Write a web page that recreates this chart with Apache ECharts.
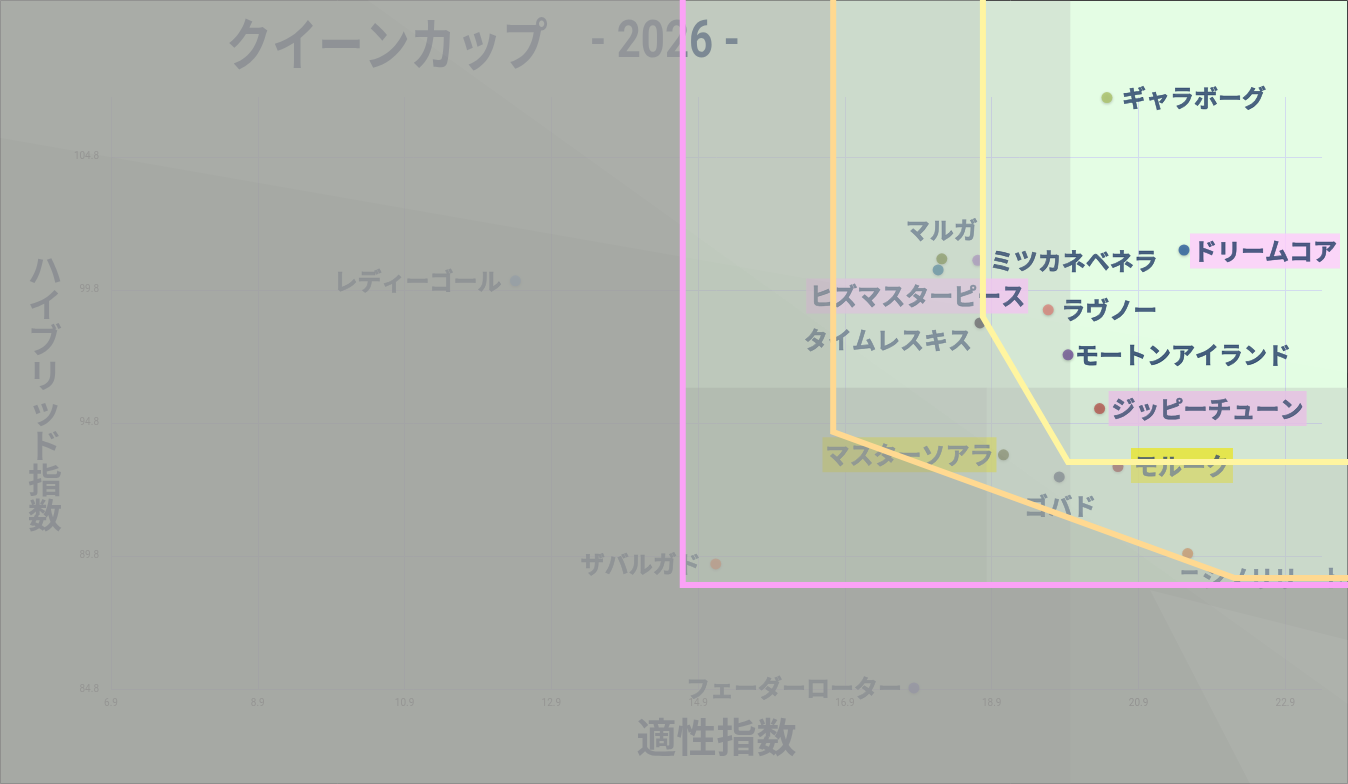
<!DOCTYPE html>
<html lang="ja">
<head>
<meta charset="utf-8">
<title>クイーンカップ 2026</title>
<script src="https://cdn.jsdelivr.net/npm/echarts@6.0.0/dist/echarts.min.js"></script>
<style>
html, body { margin: 0; padding: 0; background: #fff; }
#chart { width: 1348px; height: 784px; }
</style>
</head>
<body>
<div id="chart"></div>
<script>
// 出走馬と指数（x: 適性指数, y: ハイブリッド指数）
var horseNames = ['ギャラボーグ', 'ドリームコア', 'マルガ', 'ヒズマスターピース', 'ミツカネベネラ',
    'タイムレスキス', 'ラヴノー', 'モートンアイランド', 'ジッピーチューン', 'マスターソアラ',
    'モルーク', 'ゴバド', 'ニシノリリート', 'レディーゴール', 'ザバルガド', 'フェーダーローター'];
var tekiseiIndex = [20.47, 21.52, 18.22, 18.17, 18.71, 18.74, 19.67, 19.94, 20.37, 19.06,
    20.62, 19.82, 21.57, 12.41, 15.14, 17.84];
var hybridIndex = [107.03, 101.30, 100.97, 100.55, 100.91, 98.56, 99.05, 97.36, 95.34, 93.60,
    93.16, 92.77, 89.89, 100.14, 89.50, 84.84];

// 軸の範囲と目盛り間隔
var xRange = [6.9, 23.4], xStep = 2;
var yRange = [84.8, 107.05], yStep = 5;

// 囲み線（データ座標、上端と右端は枠の外まで）
var pinkLine = [[14.69, 111], [14.69, 88.71], [24.5, 88.71]];
var orangeLine = [[16.74, 111], [16.74, 94.46], [22.21, 88.97], [24.5, 88.97]];
var yellowLine = [[18.78, 111], [18.78, 98.78], [19.94, 93.33], [24.5, 93.33]];

// 減光エリアの区切り
var brightLeft = 19.97;   // これより左は少し暗い
var lowerEdge = 96.12;    // これより下は少し暗い
var shadeRight = 18.83;   // 左下ブロック

var JP = "'Noto Sans CJK JP', 'Noto Sans', sans-serif";
var NUM = "'Liberation Sans Narrow', Roboto, sans-serif";
var NAVY = '#14305c';

var dotColors = {
    'ギャラボーグ': '#a8c060', 'ドリームコア': '#1f5597', 'マルガ': '#5a7314',
    'ヒズマスターピース': '#0b5e8a', 'ミツカネベネラ': '#9a6dbe', 'タイムレスキス': '#1a1020',
    'ラヴノー': '#e07b70', 'モートンアイランド': '#6a4a92', 'ジッピーチューン': '#b83c30',
    'マスターソアラ': '#4a5010', 'モルーク': '#8c1c1c', 'ゴバド': '#36405a',
    'ニシノリリート': '#e06a10', 'レディーゴール': '#6cacf0', 'ザバルガド': '#ff6a30',
    'フェーダーローター': '#6c6cdc'
};
// ラベル中心の点からのずれ(px)
var labelOffsets = {
    'ギャラボーグ': [87, 0], 'ドリームコア': [81, 1], 'マルガ': [0, -29],
    'ヒズマスターピース': [-21, 26], 'ミツカネベネラ': [96, 1], 'タイムレスキス': [-92, 17],
    'ラヴノー': [61, 0], 'モートンアイランド': [115, 0], 'ジッピーチューン': [108, 0],
    'マスターソアラ': [-94, 0], 'モルーク': [64, -1], 'ゴバド': [1, 29],
    'ニシノリリート': [74, 24], 'レディーゴール': [-98, 0], 'ザバルガド': [-75, 0],
    'フェーダーローター': [-120, 0]
};
var labelBg = {
    'ドリームコア': '#ffc8fc', 'ジッピーチューン': '#ffc8fc', 'ヒズマスターピース': '#ffc8fc',
    'マスターソアラ': '#fffa00', 'モルーク': '#fffa00'
};

var chart = echarts.init(document.getElementById('chart'));

var points = horseNames.map(function (name, i) {
    var item = {
        name: name,
        value: [tekiseiIndex[i], hybridIndex[i]],
        itemStyle: { color: dotColors[name] },
        label: { offset: labelOffsets[name] }
    };
    if (labelBg[name]) {
        item.label.backgroundColor = labelBg[name];
        item.label.padding = [5, 3, 4, 3];
    }
    return item;
});

var tickLabel = {
    showMaxLabel: false,
    fontSize: 10,
    color: '#595959',
    fontFamily: NUM,
    formatter: function (v) { return v.toFixed(1); }
};
var gridLine = { show: true, showMaxLine: false, lineStyle: { color: '#d0d9ee', width: 1 } };

chart.setOption({
    animation: false,
    backgroundColor: '#e3fde3',
    grid: { left: 111, right: 26, top: 97, bottom: 95 },
    xAxis: {
        type: 'value',
        min: xRange[0],
        max: xRange[1],
        interval: xStep,
        name: '適性指数',
        nameLocation: 'middle',
        nameGap: 28,
        nameTextStyle: { fontFamily: JP, fontSize: 40, fontWeight: 'bold', color: NAVY },
        axisLine: { show: false },
        axisTick: { show: false },
        axisLabel: Object.assign({ margin: 9 }, tickLabel),
        splitLine: gridLine
    },
    yAxis: {
        type: 'value',
        min: yRange[0],
        max: yRange[1],
        interval: yStep,
        name: 'ハ\nイ\nブ\nリ\nッ\nド\n指\n数',
        nameLocation: 'middle',
        nameRotate: 0,
        nameGap: 66,
        nameTextStyle: {
            fontFamily: JP, fontSize: 34, fontWeight: 'bold', color: NAVY,
            lineHeight: 35, align: 'center', verticalAlign: 'middle'
        },
        axisLine: { show: false },
        axisTick: { show: false },
        axisLabel: Object.assign({ margin: 12 }, tickLabel),
        splitLine: gridLine
    },
    series: [{
        type: 'scatter',
        data: points,
        symbolSize: 11,
        z: 3,
        itemStyle: { shadowBlur: 3, shadowColor: 'rgba(0,0,0,0.3)', shadowOffsetY: 1 },
        label: {
            show: true,
            position: 'inside',
            formatter: '{b}',
            fontFamily: JP,
            fontSize: 24,
            fontWeight: 'bold',
            lineHeight: 26,
            color: NAVY,
            textBorderColor: NAVY,
            textBorderWidth: 0.6
        }
    }]
});

// 減光レイヤーと囲み線
var W = 1348, H = 784, M = 200;
var outerRect = [[-M, -M], [-M, H + M], [W + M, H + M], [W + M, -M]];

function toPx(p) { return chart.convertToPixel({ gridIndex: 0 }, p); }

function regionOf(line) {
    var pts = line.map(toPx);
    pts.push([pts[pts.length - 1][0], pts[0][1]]);
    return pts;
}

function outsideOf(inner) {
    return outerRect.concat([outerRect[0], inner[0]], inner.slice(1).reverse(), [inner[0]]);
}

function shade(points, fill, z) {
    return {
        type: 'polygon',
        silent: true,
        z: z,
        shape: { points: points },
        style: { fill: fill }
    };
}

function edgeLine(line, color) {
    return {
        type: 'polyline',
        silent: true,
        z: 100,
        shape: { points: line.map(toPx) },
        style: { stroke: color, lineWidth: 6, fill: null, lineJoin: 'miter' }
    };
}

var xBright = toPx([brightLeft, yRange[0]])[0];
var xShade = toPx([shadeRight, yRange[0]])[0];
var yLower = toPx([xRange[0], lowerEdge])[1];
var pinkPx = regionOf(pinkLine);
var xPink = pinkPx[0][0], yPink = pinkPx[1][1];
var leftBand = [[-M, -M], [-M, H + M], [xBright, H + M], [xBright, -M]];

var elements = [
    {
        type: 'text',
        silent: true,
        z: 10,
        x: 226,
        y: 44,
        scaleY: 1.22,
        style: {
            text: '{jp|クイーンカップ}{num|    - 2026 -}',
            verticalAlign: 'middle',
            rich: {
                jp: { fontFamily: JP, fontSize: 46, fontWeight: 'bold', fill: NAVY },
                num: { fontFamily: NUM, fontSize: 42, fontWeight: 'bold', fill: NAVY }
            }
        }
    },
    // 左側の帯：背景側と文字側に半分ずつ
    shade(leftBand, 'rgba(155,157,153,0.11)', 1),
    {
        type: 'rect',
        silent: true,
        z: 40,
        shape: { x: 0.5, y: 0.5, width: W - 1, height: H - 1 },
        style: { fill: 'none', stroke: '#333', lineWidth: 1 }
    },
    shade(leftBand, 'rgba(155,157,153,0.12)', 50),
    shade([[xPink, yLower], [xPink, yPink], [W + M, yPink], [W + M, yLower]], 'rgba(157,157,157,0.24)', 50),
    shade([[xPink, yLower], [xPink, yPink], [xShade, yPink], [xShade, yLower]], 'rgba(150,150,150,0.2)', 50),
    shade(outsideOf(regionOf(yellowLine)), 'rgba(190,200,190,0.45)', 50),
    shade(outsideOf(regionOf(orangeLine)), 'rgba(150,150,145,0.25)', 50),
    shade(outsideOf(pinkPx), 'rgba(152,150,150,0.63)', 50),
    // 斜めの光
    shade([[0, -1], [W, -1], [W, 373], [0, 138]], 'rgba(255,255,255,0.035)', 55),
    shade([[366, -1], [W, -1], [W, 704]], 'rgba(255,255,255,0.03)', 55),
    shade([[1150, 590], [W, 640], [W, H], [1250, H]], 'rgba(255,255,255,0.05)', 55),
    edgeLine(pinkLine, '#fba2f6'),
    edgeLine(orangeLine, '#ffd991'),
    edgeLine(yellowLine, '#fff5a0')
];

chart.setOption({ graphic: { elements: elements } });

window.onresize = chart.resize;
</script>
</body>
</html>
